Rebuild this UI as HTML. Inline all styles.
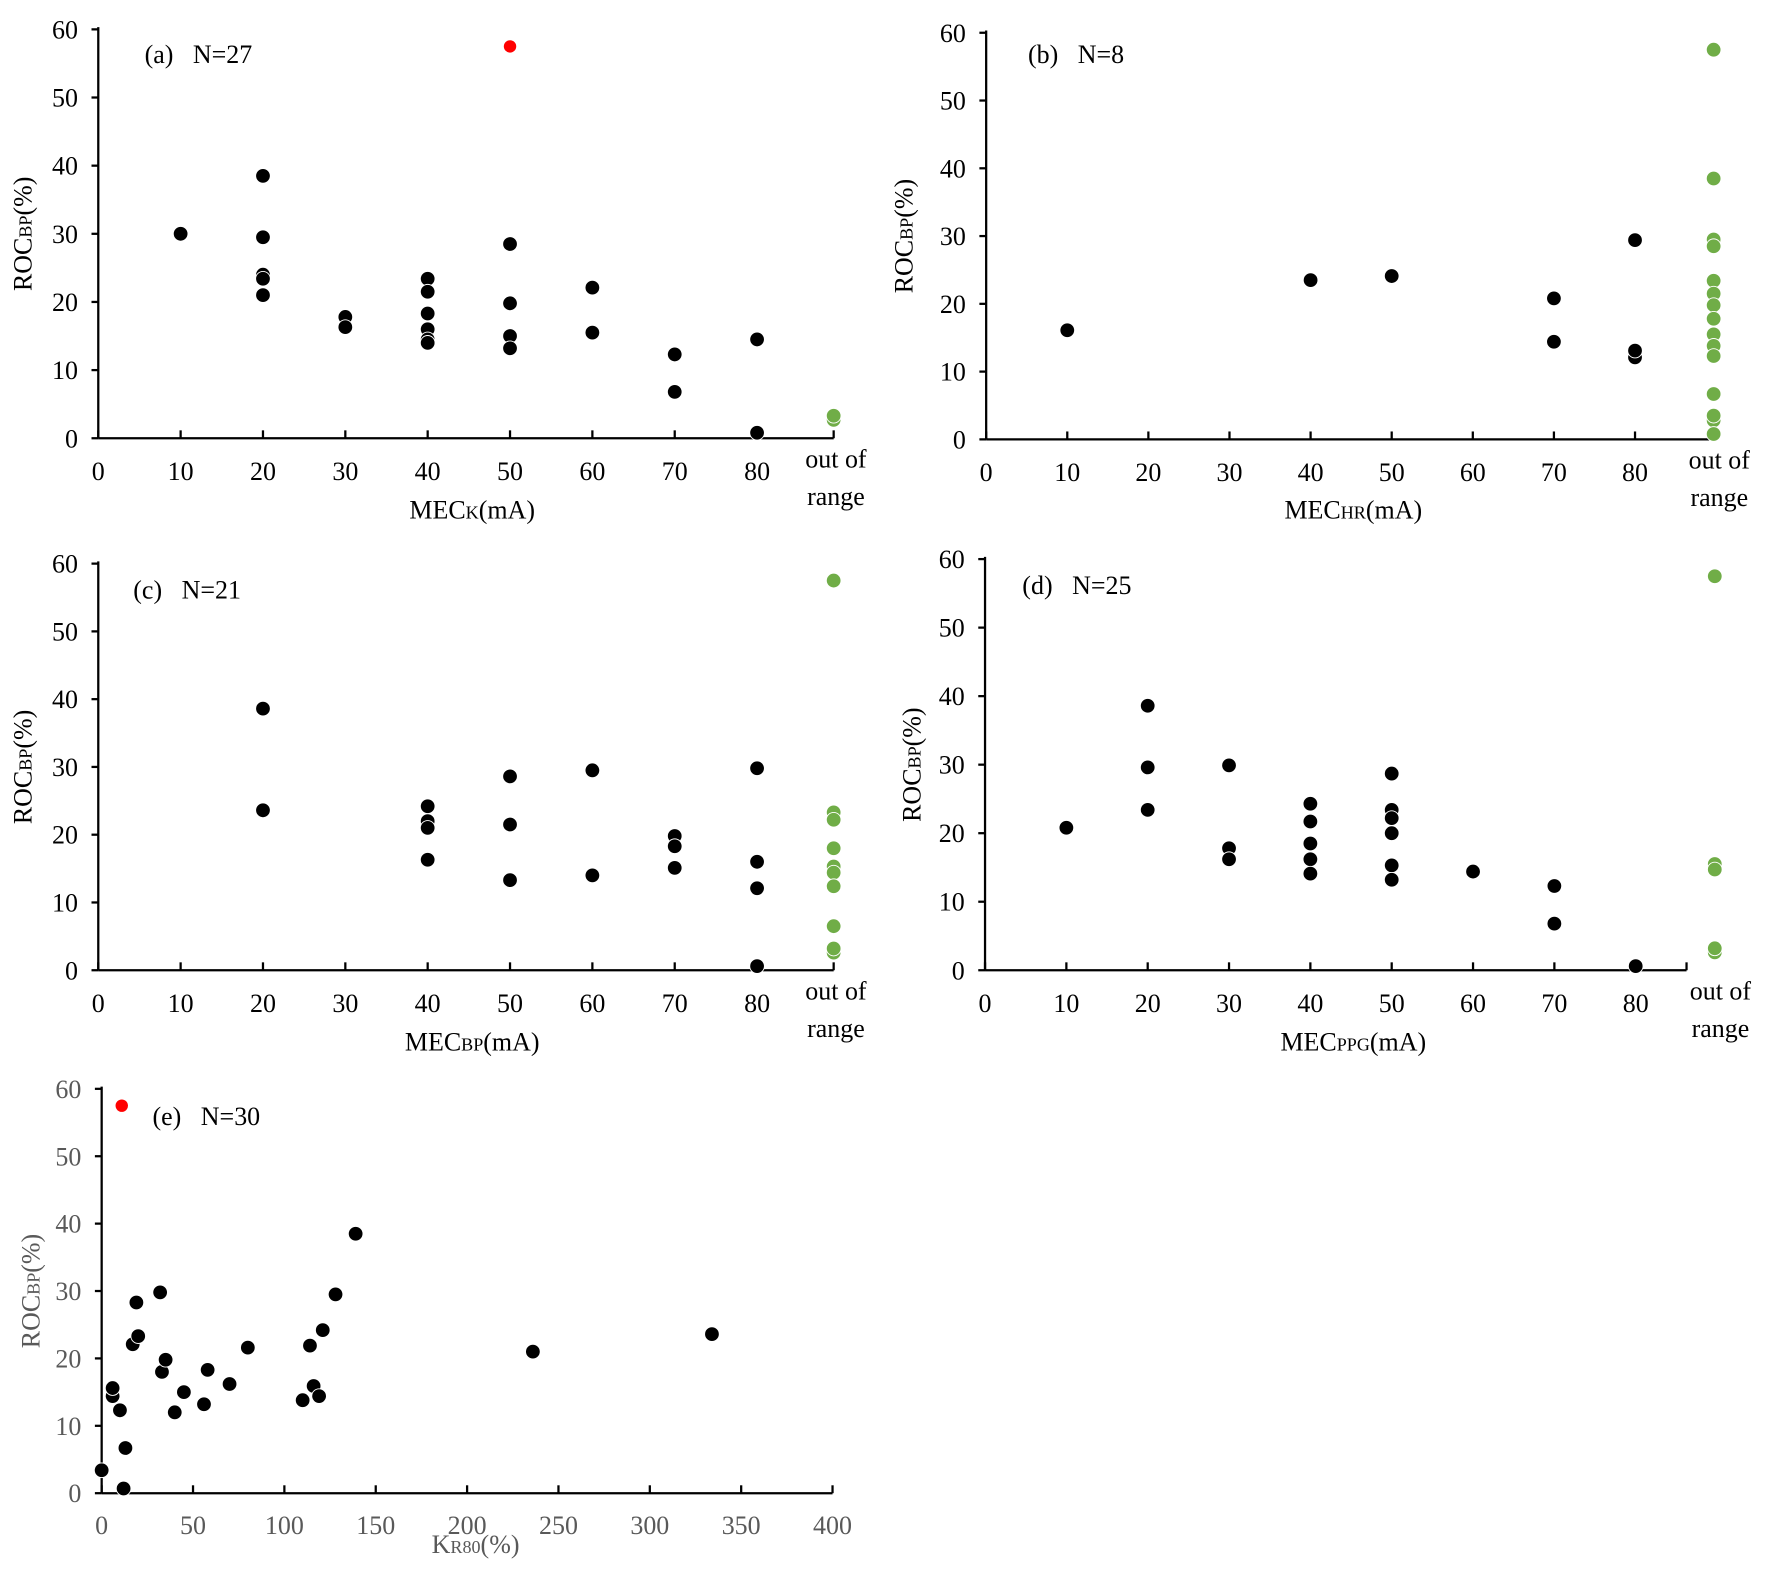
<!DOCTYPE html>
<html><head><meta charset="utf-8"><style>
html,body{margin:0;padding:0;background:#fff;}
svg{display:block;}
text{font-family:"Liberation Serif",serif;}
</style></head><body>
<svg id="s" width="1769" height="1570" viewBox="0 0 1566 1390" preserveAspectRatio="none" xmlns="http://www.w3.org/2000/svg"></svg>
<script>
const s=document.getElementById('s');let h='';
function panel(o){
 const {x0,dx,y0,y60,xend,xlab,sub,post,pts,green,red,outx,gray,xticks,ylabx,title,xlc,xly,tly}=o;
 const col=gray?'#595959':'#000';
 const X=v=>x0+v*dx, Y=v=>y0+(y60-y0)*v/60;
 h+=`<line x1="${x0}" y1="${y60-2}" x2="${x0}" y2="${y0}" stroke="#000" stroke-width="2"/>`;
 h+=`<line x1="${x0}" y1="${y0}" x2="${xend}" y2="${y0}" stroke="#000" stroke-width="2"/>`;
 for(let v=0;v<=60;v+=10){const y=Y(v);h+=`<line x1="${x0-6}" y1="${y}" x2="${x0}" y2="${y}" stroke="#000" stroke-width="2"/>`;
  h+=`<text x="${x0-18}" y="${y+8}" font-size="23" text-anchor="end" fill="${col}">${v}</text>`;}
 xticks.forEach(([v,t])=>{const x=X(v);h+=`<line x1="${x}" y1="${y0-7}" x2="${x}" y2="${y0}" stroke="#000" stroke-width="2"/>`;
  h+=`<text x="${x}" y="${y0+tly}" font-size="23" text-anchor="middle" fill="${col}">${t}</text>`;});
 if(outx){h+=`<line x1="${xend}" y1="${y0-7}" x2="${xend}" y2="${y0}" stroke="#000" stroke-width="2"/>`;
  h+=`<text x="${outx}" y="${y0+26}" font-size="23" text-anchor="middle">out of</text><text x="${outx}" y="${y0+59}" font-size="23" text-anchor="middle">range</text>`;}
 const cy=(y0+y60)/2;
 h+=`<text transform="translate(${ylabx},${cy}) rotate(-90)" font-size="23" text-anchor="middle" fill="${col}">ROC<tspan font-size="16">BP</tspan>(%)</text>`;
 h+=`<text x="${xlc}" y="${y0+xly}" font-size="23" text-anchor="middle" fill="${col}">${xlab}<tspan font-size="16">${sub}</tspan>${post}</text>`;
 h+=`<text x="${title[0]}" y="${title[1]}" font-size="23">${title[2]}</text>`;
 pts.forEach(([a,b])=>h+=`<circle cx="${X(a)}" cy="${Y(b)}" r="6.5" fill="#000" stroke="#fff" stroke-width="0.8"/>`);
 (green||[]).forEach(b=>h+=`<circle cx="${o.gx}" cy="${Y(b)}" r="6.5" fill="#70ad47" stroke="#fff" stroke-width="0.8"/>`);
 (red||[]).forEach(([a,b])=>h+=`<circle cx="${X(a)}" cy="${Y(b)}" r="5.5" fill="#ff0000"/>`);
}
const tk=[0,10,20,30,40,50,60,70,80].map(v=>[v,v]);
panel({x0:87,dx:7.29,y0:388,y60:26,xend:738,outx:740,gx:738,xlab:'MEC',sub:'K',post:'(mA)',ylabx:28,xticks:tk,xlc:418,xly:71,tly:37,title:[128,56,'(a)&#160;&#160;&#160;N=27'],
pts:[[10,30],[20,38.5],[20,29.5],[20,24],[20,23.4],[20,21],[30,17.8],[30,16.3],[40,23.4],[40,21.5],[40,18.3],[40,16],[40,14.5],[40,14],[50,28.5],[50,19.8],[50,15],[50,13.2],[60,22.1],[60,15.5],[70,12.3],[70,6.8],[80,14.5],[80,0.8]],
green:[2.7,3.3],red:[[50,57.5]]});
panel({x0:873,dx:7.18,y0:389,y60:29,xend:1517,outx:1522,gx:1517,xlab:'MEC',sub:'HR',post:'(mA)',ylabx:808,xticks:tk,xlc:1198,xly:70,tly:37,title:[910,56,'(b)&#160;&#160;&#160;N=8'],
pts:[[10,16.1],[40,23.5],[50,24.1],[70,20.8],[70,14.4],[80,29.4],[80,12.1],[80,13.1]],
green:[57.5,38.5,29.5,28.5,23.4,21.5,19.8,17.8,15.5,13.8,12.3,6.7,2.8,3.5,0.8]});
panel({x0:87,dx:7.29,y0:859,y60:499,xend:738,outx:740,gx:738,xlab:'MEC',sub:'BP',post:'(mA)',ylabx:28,xticks:tk,xlc:418,xly:71,tly:37,title:[118,530,'(c)&#160;&#160;&#160;N=21'],
pts:[[20,38.6],[20,23.6],[40,24.2],[40,22],[40,21],[40,16.3],[50,28.6],[50,21.5],[50,13.3],[60,29.5],[60,14],[70,19.8],[70,18.3],[70,15.1],[80,29.8],[80,16],[80,12.1],[80,0.6]],
green:[57.5,23.3,22.2,18,15.3,14.4,12.4,6.5,2.6,3.2]});
panel({x0:872,dx:7.2,y0:859,y60:495,xend:1493,outx:1523,gx:1518,xlab:'MEC',sub:'PPG',post:'(mA)',ylabx:815,xticks:tk,xlc:1198,xly:71,tly:37,title:[905,526,'(d)&#160;&#160;&#160;N=25'],
pts:[[10,20.8],[20,38.6],[20,29.6],[20,23.4],[30,29.9],[30,17.8],[30,16.2],[40,24.3],[40,21.7],[40,18.5],[40,16.2],[40,14.1],[50,28.7],[50,23.4],[50,22.2],[50,20],[50,15.3],[50,13.2],[60,14.4],[70,12.3],[70,6.8],[80,0.6]],
green:[57.5,15.5,14.7,2.6,3.2]});
panel({x0:90,dx:647/400,y0:1322,y60:964,xend:737,gray:true,xlab:'K',sub:'R80',post:'(%)',ylabx:35,xlc:421,xly:53,tly:36,
xticks:[0,50,100,150,200,250,300,350,400].map(v=>[v,v]),title:[135,996,'(e)&#160;&#160;&#160;N=30'],
pts:[[0,3.4],[12,0.7],[13,6.7],[6,14.4],[6,15.6],[10,12.3],[17,22.1],[19,28.3],[20,23.3],[32,29.8],[33,18],[35,19.8],[40,12],[45,15],[56,13.2],[58,18.3],[70,16.2],[80,21.6],[110,13.8],[114,21.9],[116,15.9],[119,14.4],[121,24.2],[128,29.5],[139,38.5],[236,21],[334,23.6]],
red:[[11,57.5]]});
s.innerHTML=h;
</script>
</body></html>
